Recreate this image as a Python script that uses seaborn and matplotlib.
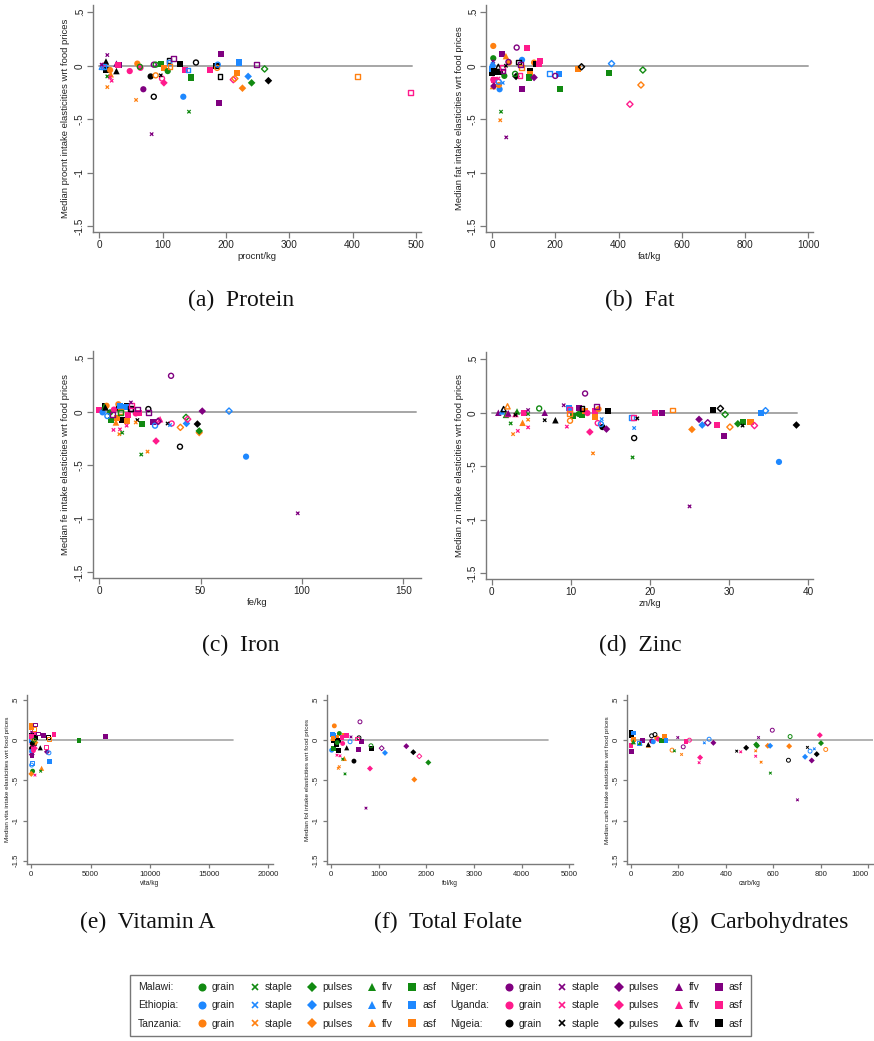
import numpy as np
import pandas as pd
import matplotlib
matplotlib.use("Agg")
import matplotlib.pyplot as plt
import seaborn as sns
from matplotlib.lines import Line2D

# ---------------- data ----------------
# code: country letter + group letter (+ "o" = hollow marker)
# countries: M Malawi, E Ethiopia, T Tanzania, N Niger, U Uganda, G Nigeia
# groups: g grain, s staple, p pulses, f ffv, a asf

protein_code = ["Ns","Ns","Ug","Gf","Eao","Efo","Eg","Ga","Ms","Ts","Us","Us","Tf","Tg","Nf","Na","Ua","Gf",
                "Ug","Tg","Ts","Ug","Mgo","Ng","Gg","Ns","Ggo","Ngo","Mgo","Tgo","Gs","Ugo","Ma","Up","Ta","Mg",
                "Gao","Eao","Tao","Nao","Ga","Eg","Ua","Eao","Ma","Ms","Ggo","Ua","Tgo","Ga","Ego","Gao","Na","Na",
                "Ea","Ta","Upo","Tpo","Nao","Ep","Tp","Mp","Mpo","Gp","Tao","Uao"]
protein_x = [12.6,3.7,6,10.5,6,4,11.5,10.5,12.6,12.6,17,19.5,18,17,27,31.6,30,27,
             48,60,58,65,64,69.5,81,82.6,86,86,89,89,97,99,98,102,102,108,
             110,110,111.6,117,127,132.6,135,140,144.7,141.6,152.6,175,186,185,187,190.5,192,189.5,
             220.5,217,211.6,214,248,235,226,240.5,261,267,408,491.6]
protein_y = [0.10,0.01,0.0,0.04,-0.01,-0.01,-0.03,-0.04,-0.10,-0.20,-0.11,-0.14,-0.08,-0.04,0.02,0.01,0.01,-0.05,
             -0.05,0.02,-0.32,-0.02,-0.01,-0.22,-0.10,-0.64,-0.29,0.01,0.01,-0.09,-0.09,-0.12,0.02,-0.16,-0.02,-0.05,
             0.05,0.03,-0.01,0.07,0.02,-0.29,-0.04,-0.04,-0.11,-0.43,0.03,-0.04,-0.02,0.0,0.01,-0.10,0.11,-0.35,
             0.03,-0.07,-0.13,-0.12,0.01,-0.10,-0.21,-0.16,-0.03,-0.14,-0.10,-0.25]

fat_code = ["Tg","Mg","Ns","Ga","Ug","Tf","Ua","Np","Eg","Ea","Ga","Es","Na","Ngo","Ua","Tf","Eg","Gao","Tg",
            "Ngo","Gs","Gfo","Ga","Ga","Mg","Eg","Es","Ego","Tg","Us","Ms","Ts","Ns","Uao","Gp","Mgo","Na","Tao",
            "Nao","Uao","Nao","Ga","Ta","Ma","Np","Tg","Ga","Ua","Ua","Eao","Ngo","Ea","Ma","Ta","Gpo","Epo","Ma",
            "Mpo","Tpo","Upo"]
fat_x = [4,4,4,1,4,3,6,6,2,1,6,2,33,78,112,44,95,85,54,
         52,44,20,15,25,39,24,34,21,22,20,28.5,26,45,88.5,76,73,95,94,
         91,32,35,120,120,118,133,133,139,152,150,181,200,213,216,272,283,378,370,
         477,471,436]
fat_y = [0.185,0.07,0.04,-0.07,-0.13,-0.19,-0.13,-0.19,0.0,-0.03,-0.05,0.02,0.11,0.17,0.17,0.09,0.055,0.035,0.03,
         0.035,0.0,-0.01,-0.06,-0.06,-0.095,-0.22,-0.16,-0.15,-0.18,-0.12,-0.43,-0.51,-0.67,-0.095,-0.10,-0.076,-0.22,-0.02,
         0.01,-0.02,-0.05,-0.045,-0.075,-0.11,-0.11,0.03,0.015,0.045,0.02,-0.075,-0.095,-0.075,-0.22,-0.03,-0.01,0.02,-0.07,
         -0.04,-0.18,-0.36]

iron_code = ["Ngo","Ua","Ga","Tg","Eg","Ego","Mg","Ma","Nao","Tf","Us","Us","Ts","Ms","Tg","Gg","Ug","Tao","Mao",
             "Ga","Ta","Ea","Ta","Ga","Ea","Ua","Ta","Us","Nao","Gao","Ns","Uao","Nao","Ug","Ua","Gs","Ts","Ma",
             "Ggo","Nao","Ms","Ts","Na","Ego","Up","Upo","Npo","Uf","Gs","Es","Ugo","Ggo","Tpo","Mpo","Upo","Ep",
             "Gp","Tp","Mp","Np","Epo","Eg","Ns","Mf","Gf"]
iron_x = [35.4,0,2.8,3.6,1.6,4,5.3,6,6.6,8.2,7,10.2,9.9,11.3,9.4,9.4,7.2,10.5,10.5,
          11,8.9,10.2,13.5,13.8,13,14.3,13.5,13.5,15.6,15.2,15.6,16,19,18,19.6,18.8,18,20.9,
          24.2,24.2,20.7,23.8,26.6,27.5,28,29.3,29,30,33.7,34.9,35.7,39.8,40,42.8,43.6,43,
          48.4,49.3,49.3,50.8,64,72.4,97.9,2.5,3]
iron_y = [0.336,0.02,0.056,0.056,-0.006,-0.04,-0.006,-0.08,-0.025,-0.10,-0.17,-0.165,-0.21,-0.196,0.07,0.03,0.02,0.0,-0.01,
          -0.078,-0.056,0.053,0.047,0.056,0.04,-0.03,-0.087,-0.13,0.025,0.03,0.087,0.056,0.025,-0.016,-0.016,-0.078,-0.10,-0.115,
          0.025,-0.006,-0.40,-0.373,-0.10,-0.13,-0.274,-0.087,-0.09,-0.07,-0.11,-0.125,-0.11,-0.327,-0.146,-0.053,-0.07,-0.11,
          -0.115,-0.196,-0.18,0.006,0.006,-0.42,-0.95,0.05,0.04]

zinc_code = ["Nf","Ef","Gfo","Tfo","Mf","Uf","Nf","Ms","Ts","Uf","Gs","Mf","Us","Tf","Ua","Ts","Us","Ms","Ns",
             "Mgo","Nf","Gs","Gf","Ns","Us","Ea","Uao","Tao","Tgo","Ma","Ngo","Na","Mg","Ma","Gao","Ta","Ug",
             "Up","Ts","Ua","Nao","Ta","Tg","Ugo","Es","Ego","Gg","Np","Ga","Eao","Uao","Gs","Es","Ggo","Ms",
             "Ua","Na","Tao","Ns","Tp","Np","Ep","Npo","Ga","Ua","Gpo","Na","Mpo","Tpo","Mp","Gs","Ma","Ta",
             "Upo","Ea","Epo","Eg","Gp"]
zinc_x = [0.84,1.3,1.5,2,1.8,2,2.1,2.4,2.7,3,3,3.2,3.3,3.9,4.1,4.6,4.6,4.6,4.6,
          6,6.7,6.7,8.05,9.1,9.5,9.8,9.8,9.8,9.9,10.3,11.8,11,11,11.4,11.4,11.8,12.1,
          12.4,12.8,13,13.2,13,13.5,13.4,13.9,13.8,14,14.5,14.75,17.7,17.9,18.4,18,18,17.8,
          20.65,21.5,22.8,25,25.3,26.2,26.6,27.3,28,28.5,28.9,29.3,29.5,30.1,31.1,31.7,31.8,32.7,
          33.2,34,34.6,36.3,38.5]
zinc_y = [0.0,0.012,0.034,0.06,-0.02,-0.012,-0.005,-0.10,-0.20,-0.012,-0.02,0.012,-0.17,-0.094,-0.006,-0.065,-0.137,-0.012,0.025,
          0.04,0.0,-0.07,-0.07,0.07,-0.13,0.04,0.03,-0.006,-0.075,-0.03,0.18,0.04,-0.012,-0.02,0.04,0.012,-0.003,
          -0.18,-0.38,0.012,0.056,-0.044,0.034,-0.097,-0.06,-0.106,-0.134,-0.153,0.019,-0.047,-0.047,-0.053,-0.143,-0.237,-0.418,
          -0.006,0.0,0.025,-0.876,-0.156,-0.062,-0.115,-0.094,0.022,-0.118,0.04,-0.22,-0.016,-0.134,-0.103,-0.12,-0.084,-0.084,
          -0.12,0.0,0.019,-0.46,-0.115]

vita_code = ["Ta","Ta","Tao","Nao","Ua","Nao","Na","Gao","Tao","Ua","Ma","Na","Gf","Ga","Ga","Gg","Ga","Gp",
             "Ns","Ma","Ea","Ug","Ua","Up","Tp","Np","Eg","Eao","Ego","Uao","Np","Ego","Ea","Mg","Tp","Tf",
             "Ms","Us","Na","Tg","Mgo","Ga","Gg","Ug","Ta","Ua"]
vita_x = [28,40,200,310,250,590,1010,1380,1520,1910,4020,6245,760,30,60,20,150,250,
          20,100,30,60,150,300,350,40,20,28,28,1266,1320,1490,1520,112,0,870,
          790,310,56,120,250,400,90,180,10,15]
vita_y = [0.187,0.158,0.14,0.195,0.09,0.083,0.054,0.041,0.012,0.07,0.0,0.045,-0.095,0.06,-0.03,-0.10,-0.08,-0.06,
          0.10,0.01,-0.01,-0.05,-0.12,-0.10,-0.03,-0.18,-0.14,-0.28,-0.31,-0.083,-0.145,-0.158,-0.265,-0.386,-0.42,-0.35,
          -0.386,-0.435,-0.187,0.02,0.0,0.03,-0.04,-0.13,0.17,0.05]

fol_code = ["Tg","Ngo","Mg","Ea","Ga","Ta","Ga","Ta","Ua","Ego","Ns","Ggo","Uao","Na","Na","Mgo","Ga","Up",
            "Ns","Gg","Ep","Npo","Np","Gp","Upo","Tp","Mp","Ms","Ts","Ts","Tf","Ms","Us","Us","Eg","Ma",
            "Ga","Gf","Ug","Ea","Ga","Ta","Mg","Ua"]
fol_x = [70,608,175,35,50,120,150,273,330,400,420,587,538,643,573,839,846,818,
         734,482,1133,1063,1580,1727,1853,1748,2042,294,175,154,280,245,190,126,14,50,
         154,330,245,60,110,40,130,230]
fol_y = [0.178,0.228,0.083,0.07,0.0,0.04,0.0,0.054,0.062,-0.02,0.04,0.029,0.02,-0.02,-0.116,-0.07,-0.108,-0.353,
         -0.846,-0.261,-0.158,-0.10,-0.075,-0.15,-0.20,-0.49,-0.278,-0.42,-0.33,-0.35,-0.228,-0.236,-0.195,-0.187,-0.125,-0.104,
         -0.129,-0.095,-0.041,0.06,-0.05,0.02,-0.03,0.03]

carb_code = ["Ga","Ga","Ea","Ua","Na","Ta","Mf","Eao","Mf","Na","Tf","Gf","Ggo","Ng","Eg","Ggo","Tg","Ug",
             "Ma","Ta","Ea","Tgo","Ms","Ns","Ts","Ngo","Ua","Ugo","Up","Us","Ego","Es","Np","Gs","Us","Gp",
             "Ts","Us","Ns","Mp","Mp","Ts","Tp","Ep","Ms","Ngo","Ggo","Tp","Mgo","Ns","Ep","Gs","Ego","Es",
             "Np","Gp","Up","Mp","Tgo"]
carb_x = [0,3,10,0,3,10,10,34,38,48,73,73,87,87,94,101,108,115,
          129,140,147,173,183,197,213,220,232,246,291,287,329,309,347,445,462,485,
          525,525,537,527,531,548,576,586,587,595,663,666,670,701,733,743,754,772,
          761,782,795,800,820]
carb_y = [0.095,0.054,0.09,-0.062,-0.145,0.012,-0.02,-0.033,-0.033,0.0,-0.062,-0.055,0.054,-0.012,-0.02,0.07,0.029,0.012,
          -0.008,0.041,-0.008,-0.124,-0.133,0.033,-0.178,-0.083,-0.012,0.0,-0.216,-0.28,0.012,-0.033,-0.033,-0.137,-0.145,-0.095,
          -0.133,-0.20,0.033,-0.054,-0.07,-0.274,-0.07,-0.07,-0.41,0.124,-0.25,-0.075,0.045,-0.743,-0.207,-0.09,-0.137,-0.108,
          -0.253,-0.174,0.062,-0.037,-0.116]

nutrients = ["procnt", "fat", "fe", "zn", "vita", "fol", "carb"]
captions = ["(a)  Protein", "(b)  Fat", "(c)  Iron", "(d)  Zinc", "(e)  Vitamin A", "(f)  Total Folate", "(g)  Carbohydrates"]
xticks_list = [[0,100,200,300,400,500], [0,200,400,600,800,1000], [0,50,100,150], [0,10,20,30,40],
               [0,5000,10000,15000,20000], [0,1000,2000,3000,4000,5000], [0,200,400,600,800,1000]]
xlims = [(-10,508), (-19,1015), (-3.1,158.7), (-0.72,40.6), (-388,20422), (-90,5084), (-18,1019)]
zero_end = [493, 1000, 156, 38.6, 17000, 4550, 1019]
yticks = [0.5, 0, -0.5, -1, -1.5]
ytick_labels = [".5", "0", "-.5", "-1", "-1.5"]

country_order = ["Malawi", "Ethiopia", "Tanzania", "Niger", "Uganda", "Nigeia"]
group_order = ["grain", "staple", "pulses", "ffv", "asf"]
COUNTRY = {"M": "Malawi", "E": "Ethiopia", "T": "Tanzania", "N": "Niger", "U": "Uganda", "G": "Nigeia"}
GROUP = {"g": "grain", "s": "staple", "p": "pulses", "f": "ffv", "a": "asf"}

palette = {"Malawi": "#118a11", "Ethiopia": "#1e88ff", "Tanzania": "#ff8010",
           "Niger": "#800080", "Uganda": "#ff1a8c", "Nigeia": "#000000"}
markers = {"grain": "o", "pulses": "D", "ffv": "^", "asf": "s"}


def frame(codes, xs, ys):
    return pd.DataFrame({
        "country": [COUNTRY[c[0]] for c in codes],
        "group": [GROUP[c[1]] for c in codes],
        "hollow": [c.endswith("o") for c in codes],
        "x": xs, "y": ys,
    })


frames = [frame(protein_code, protein_x, protein_y), frame(fat_code, fat_x, fat_y),
          frame(iron_code, iron_x, iron_y), frame(zinc_code, zinc_x, zinc_y),
          frame(vita_code, vita_x, vita_y), frame(fol_code, fol_x, fol_y),
          frame(carb_code, carb_x, carb_y)]

# ---------------- figure ----------------
sns.set_theme(style="white")
plt.rcParams["font.family"] = ["Liberation Sans", "DejaVu Sans"]

W, H = 874, 1041
fig = plt.figure(figsize=(W / 100, H / 100), dpi=100)


def pos(l, r, t, b):
    return [l / W, (H - b) / H, (r - l) / W, (b - t) / H]


positions = [pos(93, 421, 5, 232), pos(486, 813, 5, 232),
             pos(93, 421, 351, 578), pos(486, 813, 352, 579),
             pos(26.7, 273.3, 695, 864.3), pos(326.7, 573.3, 695, 864.3), pos(626.7, 873, 695, 864.3)]
caption_xy = [(241, 300), (640, 300), (241, 645), (640, 645), (148, 922), (448, 922), (760, 922)]

for i, df in enumerate(frames):
    big = i < 4
    k = 1.0 if big else 0.62
    ax = fig.add_axes(positions[i])
    ax.plot([0, zero_end[i]], [0, 0], color="#a6a6a6", lw=1.4 if big else 1.2, zorder=0.5)

    sizes_f = {"grain": 20 * k, "pulses": 15 * k, "ffv": 22 * k, "asf": 19 * k}
    sizes_h = {"grain": 13 * k, "pulses": 10 * k, "ffv": 14 * k, "asf": 12 * k}
    filled = df[(~df.hollow) & (df.group != "staple")]
    if len(filled):
        sns.scatterplot(data=filled, x="x", y="y", hue="country", style="group", size="group",
                        palette=palette, markers=markers, sizes=sizes_f, linewidth=0,
                        legend=False, ax=ax, zorder=2)
    hollow = df[(df.hollow) & (df.group != "staple")]
    if len(hollow):
        sns.scatterplot(data=hollow, x="x", y="y", hue="country", style="group", size="group",
                        palette=palette, markers=markers, sizes=sizes_h, linewidth=0,
                        legend=False, ax=ax, zorder=2)
        coll = ax.collections[-1]
        fc = coll.get_facecolors()
        coll.set_edgecolors(fc)
        coll.set_facecolors("none")
        coll.set_linewidths(1.0 if big else 0.7)
    staple = df[df.group == "staple"]
    if len(staple):
        sns.scatterplot(data=staple, x="x", y="y", hue="country", palette=palette,
                        marker="x", s=6 * k, linewidth=0.9 if big else 0.7,
                        legend=False, ax=ax, zorder=2)

    ax.set_xlim(*xlims[i])
    ax.set_ylim(-1.555 if big else -1.545, 0.568 if big else 0.562)
    ax.set_xticks(xticks_list[i])
    ax.set_xticklabels([str(t) for t in xticks_list[i]])
    ax.set_yticks(yticks)
    ax.set_yticklabels(ytick_labels, rotation=90, va="center")
    for s in ["top", "right"]:
        ax.spines[s].set_visible(False)
    for s in ["left", "bottom"]:
        ax.spines[s].set_color("#7a7a7a")
        ax.spines[s].set_linewidth(1.0)
    ax.tick_params(direction="out", length=4 if big else 3, width=0.9, color="#7a7a7a",
                   labelsize=7.2 if big else 5.6, labelcolor="#222222", pad=2,
                   bottom=True, left=True)
    if i == 6:
        ax.get_xticklabels()[-1].set_horizontalalignment("right")
    ax.set_xlabel(f"{nutrients[i]}/kg", fontsize=6.8 if big else 4.8, color="#222222", labelpad=1)
    ax.set_ylabel(f"Median {nutrients[i]} intake elasticities wrt food prices",
                  fontsize=6.8 if big else 4.6, color="#222222", labelpad=3 if big else 2)
    ax.set_facecolor("white")

    cx, cy = caption_xy[i]
    fig.text(cx / W, 1 - cy / H, captions[i], ha="center", va="center", fontsize=17,
             family=["Liberation Serif", "DejaVu Serif"], color="#111111")

# ---------------- legend ----------------
blank = Line2D([], [], linestyle="none", marker=None)
leg_marker = {"grain": "o", "staple": "x", "pulses": "D", "ffv": "^", "asf": "s"}
handles, labels = [], []
for block in (country_order[:3], country_order[3:]):
    for c in block:
        handles.append(blank)
        labels.append(f"{c}:")
    for g in group_order:
        for c in block:
            ms = 3.8 if g == "staple" else (5.0 if g == "pulses" else 5.8)
            handles.append(Line2D([], [], linestyle="none", marker=leg_marker[g], color=palette[c],
                                  markersize=ms, markeredgewidth=1.2 if g == "staple" else 0))
            labels.append(g)

leg = fig.legend(handles, labels, ncol=12, loc="center", bbox_to_anchor=(440.5 / W, 1 - 1005.5 / H),
                 fontsize=7.5, frameon=True, fancybox=False, handlelength=1.0, handletextpad=0.45,
                 columnspacing=1.38, labelspacing=0.78, borderpad=0.75)
leg.get_frame().set_edgecolor("#555555")
leg.get_frame().set_linewidth(1.0)
for t in leg.get_texts():
    t.set_color("#222222")

# remove the empty handle slot in front of the country names
try:
    for col in leg._legend_handle_box.get_children():
        for item in col.get_children():
            kids = item.get_children()
            txt = kids[1].get_children()[0].get_text() if len(kids) > 1 else ""
            if txt.endswith(":"):
                kids[0].width = 0
                item.sep = 0
except Exception:
    pass

fig.savefig("out.png", dpi=100, facecolor="white")
